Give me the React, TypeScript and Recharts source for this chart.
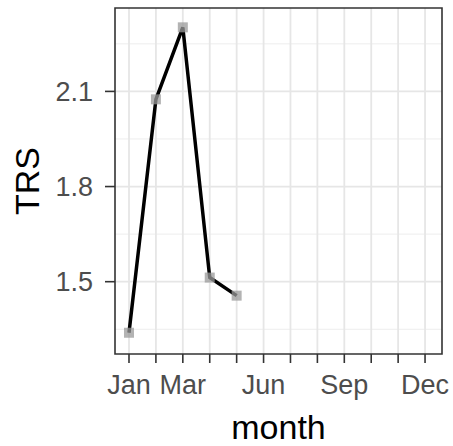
import React from "react";
import {
  LineChart,
  Line,
  XAxis,
  YAxis,
  CartesianGrid,
  ReferenceArea,
} from "recharts";

const monthNames = ["Jan", "Feb", "Mar", "Apr", "May", "Jun", "Jul", "Aug", "Sep", "Oct", "Nov", "Dec"];
const monthTicks = [1, 2, 3, 4, 5, 6, 7, 8, 9, 10, 11, 12];
const labelledMonths = ["Jan", "Mar", "Jun", "Sep", "Dec"];

const trsMonth = [1, 2, 3, 4, 5];
const trsValue = [1.339, 2.075, 2.302, 1.513, 1.456];

const yMajorTicks = [1.5, 1.8, 2.1];
const yMinorTicks = [1.35, 1.65, 1.95, 2.25];
const xDomain = [0.48, 12.63];
const yDomain = [1.272, 2.363];

const data = trsMonth.map((m, i) => ({ month: m, TRS: trsValue[i] }));

const font = "'Liberation Sans', Arial, sans-serif";

const monthFormatter = (v: number) => {
  const name = monthNames[v - 1];
  return labelledMonths.includes(name) ? name : "";
};

const SquareDot = (props: any) => {
  const { cx, cy, index } = props;
  if (cx == null || cy == null) return <g key={index} />;
  return (
    <rect
      key={index}
      x={cx - 5}
      y={cy - 5}
      width={10}
      height={10}
      fill="#9a9a9a"
      fillOpacity={0.75}
    />
  );
};

export default function App() {
  return (
    <div style={{ position: "absolute", left: 0, top: 0, fontFamily: font }}>
      <LineChart
        width={453}
        height={446}
        data={data}
        margin={{ top: 8, right: 11, left: 0, bottom: 0 }}
      >
        <CartesianGrid
          vertical={false}
          horizontalValues={yMinorTicks}
          stroke="#ededed"
          strokeWidth={1}
        />
        <CartesianGrid
          verticalValues={monthTicks}
          horizontalValues={yMajorTicks}
          stroke="#e6e6e6"
          strokeWidth={1.8}
        />
        <XAxis
          dataKey="month"
          type="number"
          domain={xDomain}
          allowDataOverflow
          ticks={monthTicks}
          tickFormatter={monthFormatter}
          interval={0}
          height={92}
          axisLine={false}
          tickSize={9}
          tickMargin={12}
          tickLine={{ stroke: "#333333", strokeWidth: 1.6 }}
          tick={{ fill: "#4d4d4d", fontSize: 27, fontFamily: font }}
          label={{
            value: "month",
            position: "insideBottom",
            offset: 7,
            fill: "#000000",
            fontSize: 34,
            fontFamily: font,
          }}
        />
        <YAxis
          type="number"
          domain={yDomain}
          allowDataOverflow
          ticks={yMajorTicks}
          width={115}
          axisLine={false}
          tickSize={10}
          tickMargin={12}
          tickLine={{ stroke: "#333333", strokeWidth: 1.6 }}
          tick={{ fill: "#4d4d4d", fontSize: 27, fontFamily: font }}
          label={{
            value: "TRS",
            angle: -90,
            position: "insideLeft",
            offset: 27,
            fill: "#000000",
            fontSize: 34,
            fontFamily: font,
            style: { textAnchor: "middle" },
          }}
        />
        <ReferenceArea
          x1={xDomain[0]}
          x2={xDomain[1]}
          y1={yDomain[0]}
          y2={yDomain[1]}
          fill="none"
          stroke="#333333"
          strokeWidth={1.6}
        />
        <Line
          dataKey="TRS"
          stroke="none"
          dot={SquareDot}
          activeDot={false}
          isAnimationActive={false}
        />
        <Line
          dataKey="TRS"
          stroke="#000000"
          strokeWidth={3.5}
          dot={false}
          activeDot={false}
          isAnimationActive={false}
        />
      </LineChart>
    </div>
  );
}
